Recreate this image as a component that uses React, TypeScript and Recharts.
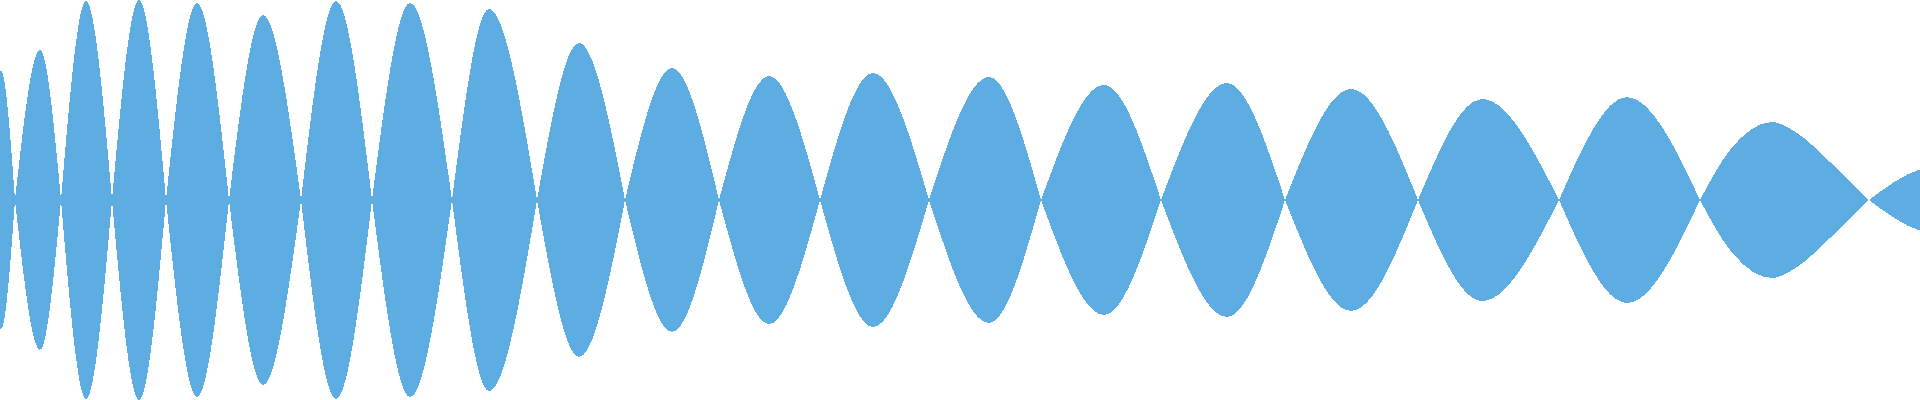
import React from "react";
import { AreaChart, Area, XAxis, YAxis } from "recharts";

// zero crossings of the envelope (time units)
const crossings = [-11, 15, 61, 112, 166, 229, 301, 372, 452, 537, 625, 719, 820, 929, 1041, 1161, 1285, 1418, 1559, 1700, 1869, 2000];
// peak time and amplitude of each lobe
const peakTimes = [1, 40, 86, 139, 197, 263, 336, 410, 489, 579, 672, 769, 873, 989, 1104, 1227, 1351, 1482, 1627, 1772, 1935];
const peakAmps = [129, 150, 199, 200, 197, 185, 199, 197, 191, 157, 132, 124, 127, 123, 115, 117, 111, 101, 103, 78, 33];
// extra readings inside a lobe
const extraLobes = [19, 19, 19];
const extraTimes = [1730, 1797, 1830];
const extraAmps = [50, 67, 38];

type Row = { t: number; a: number | null; b: number | null };

function buildRows(): Row[] {
  const map = new Map<number, Row>();
  const get = (t: number) => {
    let r = map.get(t);
    if (!r) {
      r = { t, a: null, b: null };
      map.set(t, r);
    }
    return r;
  };
  const setVal = (t: number, lobe: number, v: number) => {
    const r = get(t);
    if (lobe % 2 === 0) r.a = v;
    else r.b = v;
  };
  for (let i = 0; i < peakTimes.length; i++) {
    setVal(crossings[i], i, 0);
    setVal(peakTimes[i], i, peakAmps[i]);
    setVal(crossings[i + 1], i, 0);
  }
  for (let k = 0; k < extraTimes.length; k++) {
    setVal(extraTimes[k], extraLobes[k], extraAmps[k]);
  }
  return Array.from(map.values()).sort((p, q) => p.t - q.t);
}

const rows = buildRows();

const rangeA = (d: Row) => (d.a == null ? null : [-d.a, d.a]);
const rangeB = (d: Row) => (d.b == null ? null : [-d.b, d.b]);

const FILL = "#5DADE2";

export default function App() {
  return (
    <div style={{ position: "absolute", left: 0, top: 0, width: 1920, height: 400, background: "#fff" }}>
      <AreaChart width={1920} height={400} data={rows} margin={{ top: 0, right: 0, bottom: 0, left: 0 }}>
        <XAxis dataKey="t" type="number" domain={[0, 1920]} allowDataOverflow hide />
        <YAxis type="number" domain={[-200, 200]} allowDataOverflow hide />
        <Area
          type="monotoneX"
          dataKey={rangeA as any}
          stroke="none"
          fill={FILL}
          fillOpacity={1}
          shapeRendering="crispEdges"
          isAnimationActive={false}
          dot={false}
          activeDot={false}
        />
        <Area
          type="monotoneX"
          dataKey={rangeB as any}
          stroke="none"
          fill={FILL}
          fillOpacity={1}
          shapeRendering="crispEdges"
          isAnimationActive={false}
          dot={false}
          activeDot={false}
        />
      </AreaChart>
    </div>
  );
}
